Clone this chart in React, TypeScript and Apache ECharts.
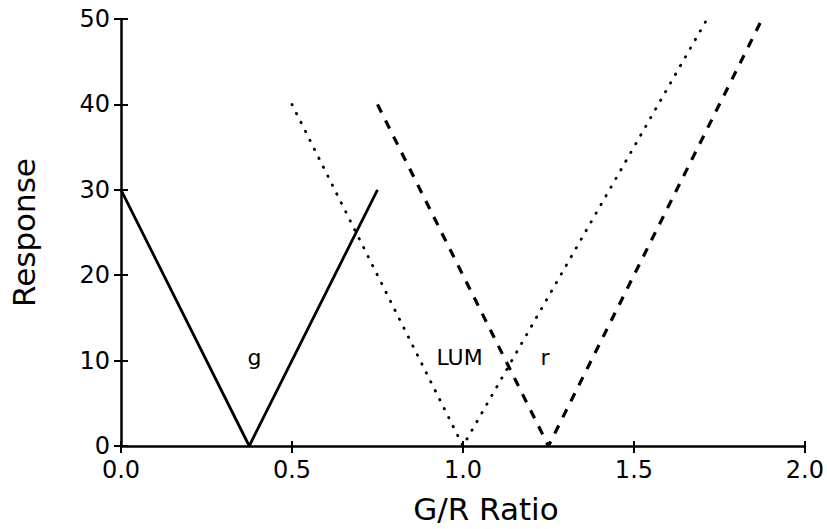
import React, { useEffect, useRef } from "react";
import * as echarts from "echarts";

const gSeries: [number, number][] = [[0, 30], [0.375, 0], [0.75, 30]];
const lumSeries: [number, number][] = [[0.5, 40], [1.0, 0], [1.714, 50]];
const rSeries: [number, number][] = [[0.75, 40], [1.25, 0], [1.875, 50]];
const curveLabels = ["g", "LUM", "r"];
const curveLabelPos: [number, number][] = [[0.39, 10.4], [0.99, 10.4], [1.24, 10.4]];

const FONT = "DejaVu Sans";

export default function App() {
  const ref = useRef<HTMLDivElement>(null);
  useEffect(() => {
    if (!ref.current) return;
    const chart = echarts.init(ref.current, undefined, { renderer: "svg" });
    const axisLine = { show: true, lineStyle: { color: "#000", width: 2.5 } };
    chart.setOption({
      animation: false,
      backgroundColor: "#fff",
      grid: { left: 120, right: 22, top: 19, bottom: 82, containLabel: false },
      xAxis: [
        {
          type: "value", min: 0, max: 2, interval: 0.5,
          name: "G/R Ratio", nameLocation: "middle", nameGap: 47,
          nameTextStyle: { fontFamily: FONT, fontSize: 31, color: "#000", padding: [0, 0, 0, 46] },
          axisLine, splitLine: { show: false },
          axisTick: { show: true, inside: false, length: 7, lineStyle: { color: "#000", width: 2 } },
          axisLabel: { fontFamily: FONT, fontSize: 24, color: "#000", margin: 12, formatter: (v: number) => v.toFixed(1) },
        },
        {
          type: "value", min: 0, max: 2, interval: 0.5, position: "bottom",
          axisLine: { show: false }, splitLine: { show: false }, axisLabel: { show: false },
          axisTick: { show: true, inside: true, length: 5, lineStyle: { color: "#000", width: 2 } },
        },
      ],
      yAxis: [
        {
          type: "value", min: 0, max: 50, interval: 10,
          name: "Response", nameLocation: "middle", nameGap: 82,
          nameTextStyle: { fontFamily: FONT, fontSize: 31, color: "#000" },
          axisLine, splitLine: { show: false },
          axisTick: { show: true, inside: false, length: 7, lineStyle: { color: "#000", width: 2 } },
          axisLabel: { fontFamily: FONT, fontSize: 24, color: "#000", margin: 11 },
        },
        {
          type: "value", min: 0, max: 50, interval: 10, position: "left",
          axisLine: { show: false }, splitLine: { show: false }, axisLabel: { show: false },
          axisTick: { show: true, inside: true, length: 7, lineStyle: { color: "#000", width: 2 } },
        },
      ],
      series: [
        {
          name: "g", type: "line", data: gSeries, symbol: "none",
          lineStyle: { color: "#000", width: 2.8, type: "solid" },
        },
        {
          name: "LUM", type: "line", data: lumSeries, symbol: "none",
          lineStyle: { color: "#000", width: 2.8, type: [0.5, 9.5], cap: "round" },
        },
        {
          name: "r", type: "line", data: rSeries, symbol: "none",
          lineStyle: { color: "#000", width: 3.2, type: [9, 9] },
        },
        {
          type: "scatter", symbolSize: 0, silent: true,
          itemStyle: { opacity: 1, color: "#000" },
          data: curveLabels.map((n, i) => ({ name: n, value: curveLabelPos[i] })),
          label: {
            show: true, position: "inside", formatter: (p: any) => p.name,
            fontFamily: FONT, fontSize: 22, color: "#000", opacity: 1,
          },
        },
      ],
    });
    return () => chart.dispose();
  }, []);
  return (
    <div
      ref={ref}
      style={{ position: "absolute", left: 0, top: 0, width: 827, height: 529 }}
    />
  );
}
